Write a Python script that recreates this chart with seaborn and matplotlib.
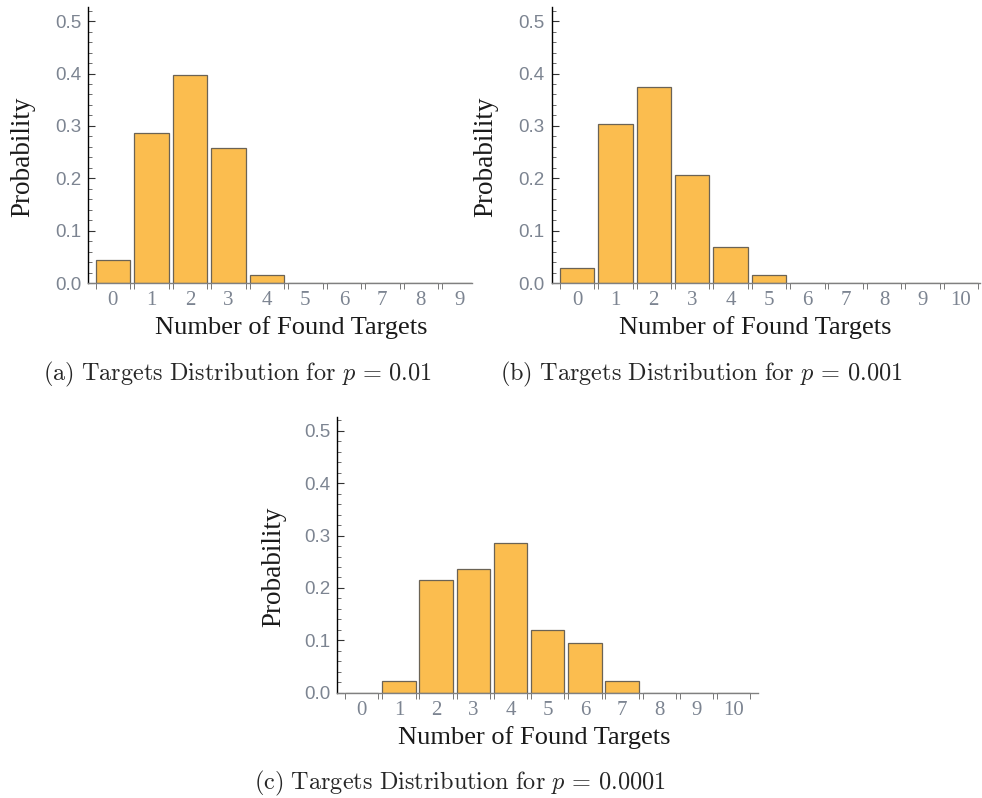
import numpy as np
import matplotlib
matplotlib.use("Agg")
import matplotlib.pyplot as plt
import seaborn as sns

# ---- data ----
counts_a = [str(k) for k in range(10)]
counts_b = [str(k) for k in range(11)]
counts_c = [str(k) for k in range(11)]

prob_a = [0.044, 0.286, 0.398, 0.258, 0.015, 0, 0, 0, 0, 0]
prob_b = [0.028, 0.304, 0.375, 0.207, 0.069, 0.015, 0, 0, 0, 0, 0]
prob_c = [0, 0.023, 0.215, 0.237, 0.286, 0.120, 0.094, 0.023, 0, 0, 0]

captions = [r"$\mathrm{(a)\ Targets\ Distribution\ for\ }p\,=\,0.01$",
            r"$\mathrm{(b)\ Targets\ Distribution\ for\ }p\,=\,0.001$",
            r"$\mathrm{(c)\ Targets\ Distribution\ for\ }p\,=\,0.0001$"]

sns.set_style("ticks")
plt.rcParams["mathtext.fontset"] = "cm"

BAR = "#FBBD4F"
EDGE = "#6b6355"
TICKCOL = "#7c8491"

fig = plt.figure(figsize=(9.82, 7.98), dpi=100)
W, H = 982, 798


def px_axes(left, right, bottom, top):
    return fig.add_axes([left / W, 1 - bottom / H, (right - left) / W, (bottom - top) / H])


ax_a = px_axes(88, 471.7, 283, 7)
ax_b = px_axes(551.7, 980, 283, 7)
ax_c = px_axes(337.3, 758.3, 692.7, 416.7)

panels = [
    (ax_a, counts_a, prob_a, (-0.645, 9.32), (0.531, -0.163), (-0.171, 0.457)),
    (ax_b, counts_b, prob_b, (-0.66, 10.5), (0.475, -0.163), (-0.154, 0.457)),
    (ax_c, counts_c, prob_c, (-0.656, 10.66), (0.467, -0.164), (-0.152, 0.457)),
]

for ax, cats, vals, xlim, xl_pos, yl_pos in panels:
    sns.barplot(x=cats, y=vals, color=BAR, saturation=1, width=0.9,
                edgecolor=EDGE, linewidth=0.9, ax=ax)
    ax.set_xlim(*xlim)
    ax.set_ylim(0, 0.527)

    # y axis: majors every 0.1, minors every 0.02, pointing in
    ax.set_yticks(np.arange(0, 0.51, 0.1))
    ax.set_yticklabels([f"{v:.1f}" for v in np.arange(0, 0.51, 0.1)],
                       family="Liberation Sans", fontsize=13.5, color=TICKCOL)
    ax.set_yticks(np.arange(0, 0.53, 0.02), minor=True)
    ax.tick_params(axis="y", which="major", direction="in", length=5, width=0.8,
                   color="#333333", pad=5)
    ax.tick_params(axis="y", which="minor", direction="in", length=3, width=0.6,
                   color="#555555")

    # x axis: labels at bin centres, tick marks at bar edges
    n = len(cats)
    ax.set_xticks(range(n))
    ax.set_xticklabels(cats, family="Liberation Serif", fontsize=15, color=TICKCOL)
    ax.tick_params(axis="x", which="major", length=0, pad=6)
    edges = np.sort(np.concatenate([np.arange(n) - 0.45, np.arange(n) + 0.45]))
    edges = edges[(edges > xlim[0]) & (edges < xlim[1])]
    ax.set_xticks(edges, minor=True)
    ax.tick_params(axis="x", which="minor", direction="out", length=4, width=0.7,
                   color="#777777")

    for s in ["top", "right"]:
        ax.spines[s].set_visible(False)
    ax.spines["left"].set_color("black")
    ax.spines["left"].set_linewidth(1.0)
    ax.spines["bottom"].set_color("#808080")
    ax.spines["bottom"].set_linewidth(1.0)

    ax.set_xlabel("Number of Found Targets", family="Liberation Serif",
                  fontsize=19, color="#1a1a1a", va="center")
    ax.set_ylabel("Probability", family="Liberation Serif",
                  fontsize=19.5, color="#1a1a1a", va="center")
    ax.xaxis.set_label_coords(*xl_pos)
    ax.yaxis.set_label_coords(*yl_pos)

fig.text(237.5 / W, 1 - 374 / H, captions[0], fontsize=17.5, ha="center", va="center")
fig.text(701.7 / W, 1 - 374 / H, captions[1], fontsize=17.5, ha="center", va="center")
fig.text(460 / W, 1 - 783 / H, captions[2], fontsize=17.5, ha="center", va="center")

fig.savefig("out.png", dpi=100)
